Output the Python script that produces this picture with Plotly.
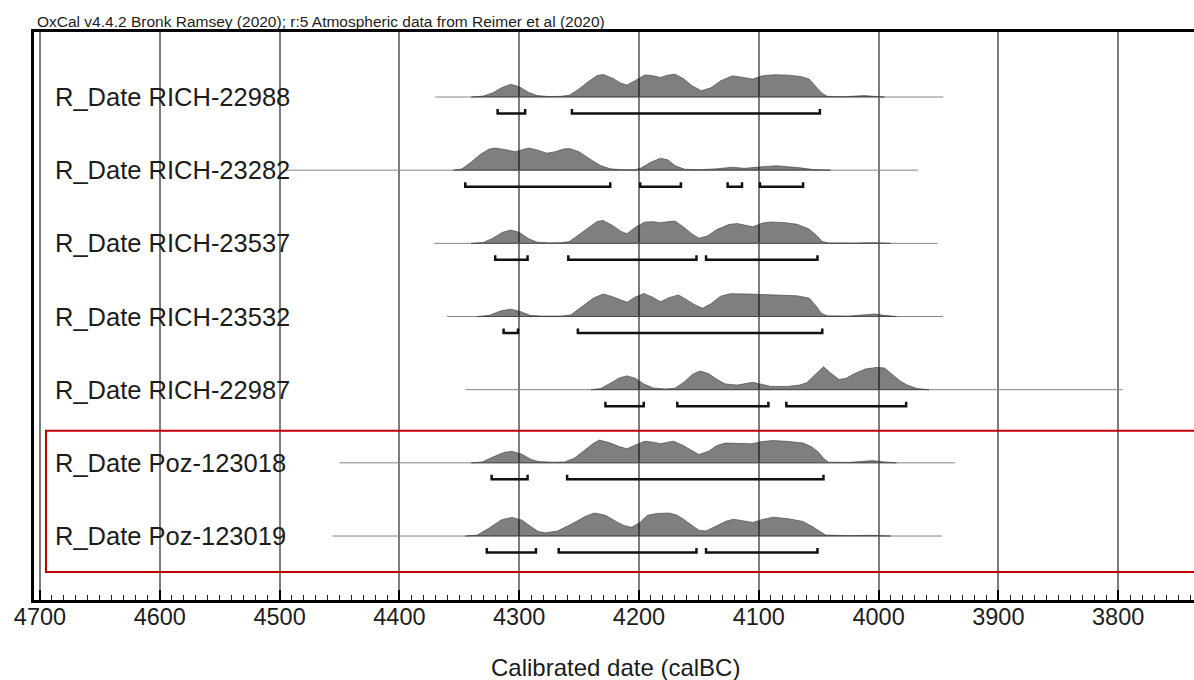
import plotly.graph_objects as go

# ---------------- data ----------------
TITLE = "OxCal v4.4.2 Bronk Ramsey (2020); r:5 Atmospheric data from Reimer et al (2020)"
AXIS_TITLE = "Calibrated date (calBC)"
tick_years = [4700, 4600, 4500, 4400, 4300, 4200, 4100, 4000, 3900, 3800]

labels = ["R_Date RICH-22988", "R_Date RICH-23282", "R_Date RICH-23537",
          "R_Date RICH-23532", "R_Date RICH-22987", "R_Date Poz-123018",
          "R_Date Poz-123019"]

# extent of the thin baseline for each date (calBC)
spans = [(4370, 3946), (4495, 3967), (4371, 3951), (4360, 3946),
         (4345, 3796), (4450, 3936), (4456, 3947)]

r22988_years = [4340, 4330, 4322, 4314, 4307, 4300, 4292, 4285, 4275, 4265, 4258, 4250, 4242, 4235, 4230,
                4222, 4215, 4210, 4203, 4195, 4188, 4182, 4176, 4170, 4163, 4156, 4148, 4140, 4132, 4122,
                4113, 4105, 4097, 4087, 4075, 4065, 4058, 4053, 4048, 4043, 4030, 4012, 4006, 3995]
r22988_prob = [0, 0.04, 0.18, 0.42, 0.55, 0.45, 0.2, 0.06, 0.02, 0.03, 0.08, 0.35, 0.68, 0.93, 0.98,
               0.82, 0.6, 0.52, 0.72, 0.96, 0.92, 0.85, 0.95, 0.99, 0.8, 0.5, 0.27, 0.4, 0.7, 0.92,
               0.85, 0.78, 0.92, 0.97, 0.95, 0.89, 0.78, 0.5, 0.2, 0.03, 0.01, 0.06, 0.05, 0]
r22988_ranges = [(4318, 4295), (4256, 4049)]

r23282_years = [4355, 4348, 4340, 4332, 4325, 4320, 4312, 4303, 4297, 4292, 4285, 4277, 4270, 4263, 4258,
                4250, 4240, 4232, 4224, 4215, 4203, 4198, 4190, 4182, 4176, 4170, 4162, 4150, 4135, 4122,
                4112, 4105, 4095, 4085, 4075, 4065, 4055, 4040]
r23282_prob = [0, 0.05, 0.35, 0.7, 0.92, 0.96, 0.9, 0.8, 0.9, 0.96, 0.88, 0.74, 0.8, 0.92, 0.94,
               0.8, 0.45, 0.2, 0.06, 0.02, 0.02, 0.1, 0.35, 0.52, 0.45, 0.2, 0.04, 0.02, 0.06, 0.13,
               0.08, 0.1, 0.16, 0.19, 0.16, 0.1, 0.03, 0]
r23282_ranges = [(4345, 4224), (4199, 4165), (4126, 4114), (4099, 4063)]

r23537_years = [4340, 4330, 4322, 4314, 4307, 4300, 4292, 4285, 4275, 4265, 4258, 4250, 4242, 4235, 4230,
                4222, 4215, 4210, 4203, 4195, 4188, 4182, 4176, 4170, 4163, 4156, 4150, 4143, 4135, 4125,
                4118, 4110, 4105, 4097, 4090, 4078, 4068, 4058, 4052, 4047, 4042, 4020, 4005, 3990]
r23537_prob = [0, 0.04, 0.22, 0.48, 0.58, 0.48, 0.2, 0.05, 0.02, 0.03, 0.08, 0.38, 0.72, 0.95, 0.99,
               0.78, 0.52, 0.42, 0.7, 0.93, 0.94, 0.9, 0.94, 0.97, 0.72, 0.42, 0.22, 0.32, 0.6, 0.82,
               0.86, 0.76, 0.72, 0.88, 0.93, 0.9, 0.83, 0.62, 0.35, 0.08, 0.02, 0.01, 0.03, 0]
r23537_ranges = [(4320, 4293), (4259, 4152), (4144, 4051)]

r23532_years = [4335, 4325, 4315, 4307, 4299, 4291, 4282, 4265, 4257, 4248, 4238, 4230, 4222, 4210, 4203,
                4196, 4189, 4182, 4175, 4167, 4160, 4153, 4147, 4140, 4132, 4124, 4110, 4100, 4081, 4068,
                4058, 4052, 4048, 4043, 4025, 4010, 4003, 3995, 3985]
r23532_prob = [0, 0.05, 0.25, 0.32, 0.22, 0.05, 0.02, 0.02, 0.07, 0.4, 0.8, 0.98, 0.86, 0.62, 0.85,
               1.0, 0.85, 0.64, 0.82, 0.94, 0.72, 0.5, 0.36, 0.55, 0.88, 0.99, 0.98, 0.96, 0.94, 0.9,
               0.8, 0.45, 0.15, 0.03, 0.02, 0.08, 0.11, 0.05, 0]
r23532_ranges = [(4313, 4301), (4251, 4047)]

r22987_years = [4240, 4232, 4224, 4216, 4210, 4203, 4196, 4188, 4178, 4170, 4162, 4155, 4149, 4142, 4135,
                4128, 4118, 4110, 4105, 4098, 4090, 4076, 4066, 4060, 4054, 4046, 4040, 4033, 4027, 4020,
                4011, 4001, 3995, 3988, 3982, 3976, 3968, 3958]
r22987_prob = [0, 0.05, 0.28, 0.52, 0.6, 0.5, 0.25, 0.07, 0.03, 0.06, 0.35, 0.68, 0.81, 0.7, 0.45,
               0.25, 0.2, 0.26, 0.32, 0.24, 0.14, 0.14, 0.2, 0.3, 0.6, 1.0, 0.72, 0.44, 0.5, 0.7,
               0.9, 0.97, 0.94, 0.65, 0.38, 0.2, 0.05, 0]
r22987_ranges = [(4228, 4196), (4168, 4092), (4077, 3977)]

p123018_years = [4340, 4331, 4322, 4313, 4306, 4298, 4290, 4284, 4272, 4262, 4254, 4245, 4238, 4233, 4225,
                 4216, 4210, 4202, 4195, 4188, 4182, 4176, 4171, 4163, 4156, 4150, 4142, 4135, 4128, 4118,
                 4106, 4098, 4088, 4075, 4063, 4056, 4050, 4046, 4042, 4025, 4012, 4005, 3995, 3985]
p123018_prob = [0, 0.04, 0.25, 0.45, 0.5, 0.38, 0.15, 0.06, 0.03, 0.04, 0.2, 0.55, 0.85, 0.99, 0.88,
                0.7, 0.61, 0.8, 0.94, 0.9, 0.83, 0.9, 0.94, 0.75, 0.52, 0.36, 0.5, 0.75, 0.86, 0.85,
                0.83, 0.92, 0.97, 0.93, 0.86, 0.7, 0.46, 0.2, 0.03, 0.02, 0.08, 0.1, 0.04, 0]
p123018_ranges = [(4323, 4293), (4260, 4046)]

p123019_years = [4345, 4335, 4325, 4315, 4306, 4298, 4290, 4284, 4278, 4268, 4255, 4245, 4237, 4228, 4218,
                 4212, 4206, 4199, 4193, 4185, 4175, 4169, 4164, 4157, 4150, 4144, 4135, 4127, 4121, 4112,
                 4105, 4097, 4088, 4075, 4063, 4055, 4048, 4044, 4025, 4005, 3990]
p123019_prob = [0, 0.04, 0.35, 0.7, 0.81, 0.7, 0.4, 0.2, 0.14, 0.22, 0.55, 0.85, 1.0, 0.9, 0.6,
                0.45, 0.38, 0.6, 0.9, 0.98, 1.0, 0.92, 0.77, 0.5, 0.25, 0.22, 0.45, 0.65, 0.73, 0.65,
                0.59, 0.72, 0.82, 0.75, 0.63, 0.4, 0.15, 0.04, 0.02, 0.03, 0]
p123019_ranges = [(4327, 4286), (4267, 4152), (4144, 4051)]

dist_years = [r22988_years, r23282_years, r23537_years, r23532_years, r22987_years, p123018_years, p123019_years]
dist_prob = [r22988_prob, r23282_prob, r23537_prob, r23532_prob, r22987_prob, p123018_prob, p123019_prob]
dist_ranges = [r22988_ranges, r23282_ranges, r23537_ranges, r23532_ranges, r22987_ranges, p123018_ranges, p123019_ranges]

# ---------------- layout geometry ----------------
W, H = 1194, 680
ML, MR, MT, MB = 34, 0, 32, 80
PLOT_H = H - MT - MB          # y axis measured in pixels from the bottom of the frame
X_RANGE = [4705, 3736.7]
BASE0 = 503                   # baseline of first row
ROW_GAP = 73.17
PEAK = 23                     # height of a probability of 1
BR_OFF = 16.5                 # bracket below baseline
BR_TICK = 4.5
FONT = "Liberation Sans, Arial, sans-serif"
TXT = "#1c1c1c"

fig = go.Figure()

for i, lab in enumerate(labels):
    base = BASE0 - i * ROW_GAP
    # thin baseline
    fig.add_trace(go.Scatter(x=list(spans[i]), y=[base, base], mode="lines",
                             line=dict(color="#858585", width=1), hoverinfo="skip", showlegend=False))
    # probability distribution
    xs = dist_years[i] + [dist_years[i][-1], dist_years[i][0]]
    ys = [base + p * PEAK for p in dist_prob[i]] + [base, base]
    fig.add_trace(go.Scatter(x=xs, y=ys, mode="lines", fill="toself",
                             fillcolor="rgba(0,0,0,0.5)",
                             line=dict(color="rgba(60,60,60,0.6)", width=1),
                             hoverinfo="skip", showlegend=False))
    # range brackets
    yb = base - BR_OFF
    for a, b in dist_ranges[i]:
        fig.add_trace(go.Scatter(x=[a, a, b, b], y=[yb + BR_TICK, yb, yb, yb + BR_TICK], mode="lines",
                                 line=dict(color="#111111", width=2.5), hoverinfo="skip", showlegend=False))
    fig.add_annotation(x=(53 - ML) / (W - ML - MR), xref="paper", y=base, yref="y",
                       text=lab, showarrow=False, xanchor="left", yanchor="middle",
                       font=dict(family=FONT, size=25.5, color=TXT))

# red box around the last two rows
fig.add_shape(type="rect", xref="x", yref="y",
              x0=4695, x1=3720, y0=BASE0 - 6 * ROW_GAP - 36, y1=BASE0 - 5 * ROW_GAP + 32,
              line=dict(color="#c00000", width=2), layer="above")

fig.add_annotation(x=(35 - ML) / (W - ML - MR), xref="paper", y=1 + (MT - 22) / PLOT_H, yref="paper",
                   text=TITLE, showarrow=False, xanchor="left", yanchor="middle",
                   font=dict(family=FONT, size=15.5, color=TXT))
fig.add_annotation(x=(615 - ML) / (W - ML - MR), xref="paper", y=-(667 - (H - MB)) / PLOT_H, yref="paper",
                   text=AXIS_TITLE, showarrow=False, xanchor="center", yanchor="middle",
                   font=dict(family=FONT, size=24, color=TXT))

fig.update_layout(
    width=W, height=H, margin=dict(l=ML, r=MR, t=MT, b=MB),
    paper_bgcolor="white", plot_bgcolor="white",
    xaxis=dict(range=X_RANGE, tickvals=tick_years, ticktext=[str(v) for v in tick_years],
               showgrid=True, gridcolor="#7d7d7d", gridwidth=1.5, zeroline=False,
               showline=True, linecolor="black", linewidth=3, mirror=True,
               ticks="inside", ticklen=10, tickwidth=2, tickcolor="black",
               ticklabelstandoff=-6,
               minor=dict(ticks="inside", ticklen=5, tickwidth=1.2, tickcolor="#222222", dtick=10,
                          tick0=4700, showgrid=False),
               tickfont=dict(family=FONT, size=23.5, color=TXT)),
    yaxis=dict(range=[0, PLOT_H], showgrid=False, zeroline=False, showticklabels=False,
               showline=True, linecolor="black", linewidth=3, ticks=""),
)

fig.write_html("out.html", config={"displayModeBar": False},
               post_script="document.body.style.margin='0px';document.body.style.overflow='hidden';")
